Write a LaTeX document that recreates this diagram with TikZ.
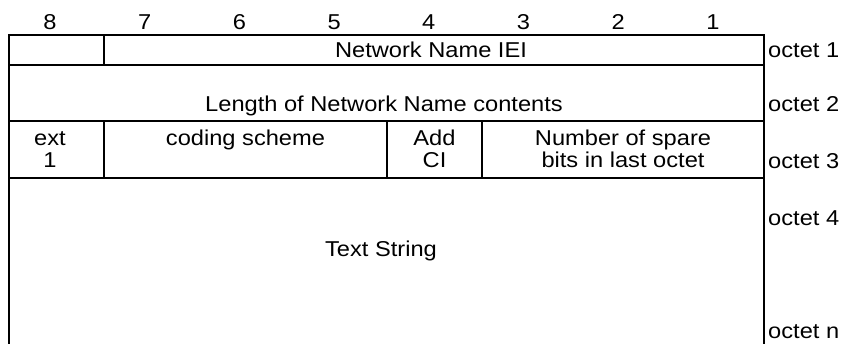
\documentclass[tikz,border=0pt]{standalone}
\usepackage{fontspec}
\setmainfont{Liberation Sans}[FakeStretch=1.1]
\usetikzlibrary{positioning}
\tikzset{
  frameline/.style={line width=2pt},
  bitnum/.style={anchor=base,inner sep=0pt,font=\fontsize{21.5}{22}\selectfont},
  fieldtxt/.style={anchor=base,inner sep=0pt,align=center,font=\fontsize{21.5}{22}\selectfont},
  octlabel/.style={anchor=base west,inner sep=0pt,font=\fontsize{21.5}{22}\selectfont}
}
\begin{document}
\begin{tikzpicture}[x=1pt,y=-1pt]
  \useasboundingbox (0,0) rectangle (844,343);
  % frame corners and row lines
  \coordinate (tl) at (8.5,35);
  \coordinate (tr) at (764,35);
  \coordinate (bl) at (8.5,345);
  \coordinate (br) at (764,345);
  \draw[frameline] (bl) -- (tl) -- (tr) -- (br);
  \foreach \yy in {65,121,178}
    \draw[frameline] (8.5,\yy) -- (764,\yy);
  % field dividers
  \draw[frameline] (104,35) -- (104,65);
  \draw[frameline] (104,121) -- (104,178);
  \draw[frameline] (387,121) -- (387,178);
  \draw[frameline] (482,121) -- (482,178);
  % bit numbers
  \foreach \b [count=\i from 0] in {8,7,6,5,4,3,2,1}
    \node[bitnum] (bit\b) at (50+94.7*\i,29) {\b};
  % fields (two-line ones sit on their last baseline)
  \node[fieldtxt] (iei) at (431,57) {Network Name IEI};
  \node[fieldtxt] (len) at (384,111) {Length of Network Name contents};
  \node[fieldtxt] (ext) at (50,167) {ext\\1};
  \node[fieldtxt] (coding) at (245.5,145) {coding scheme};
  \node[fieldtxt] (addci) at (434.5,167) {Add\\CI};
  \node[fieldtxt] (spare) at (623,167) {Number of spare\\bits in last octet};
  \node[fieldtxt] (text) at (381,256) {Text String};
  % octet labels
  \node[octlabel] (oct1) at (768,57) {octet 1};
  \node[octlabel] (oct2) at (768,111) {octet 2};
  \node[octlabel] (oct3) at (768,168) {octet 3};
  \node[octlabel] (oct4) at (768,225) {octet 4};
  \node[octlabel] (octn) at (768,338) {octet n};
\end{tikzpicture}
\end{document}
